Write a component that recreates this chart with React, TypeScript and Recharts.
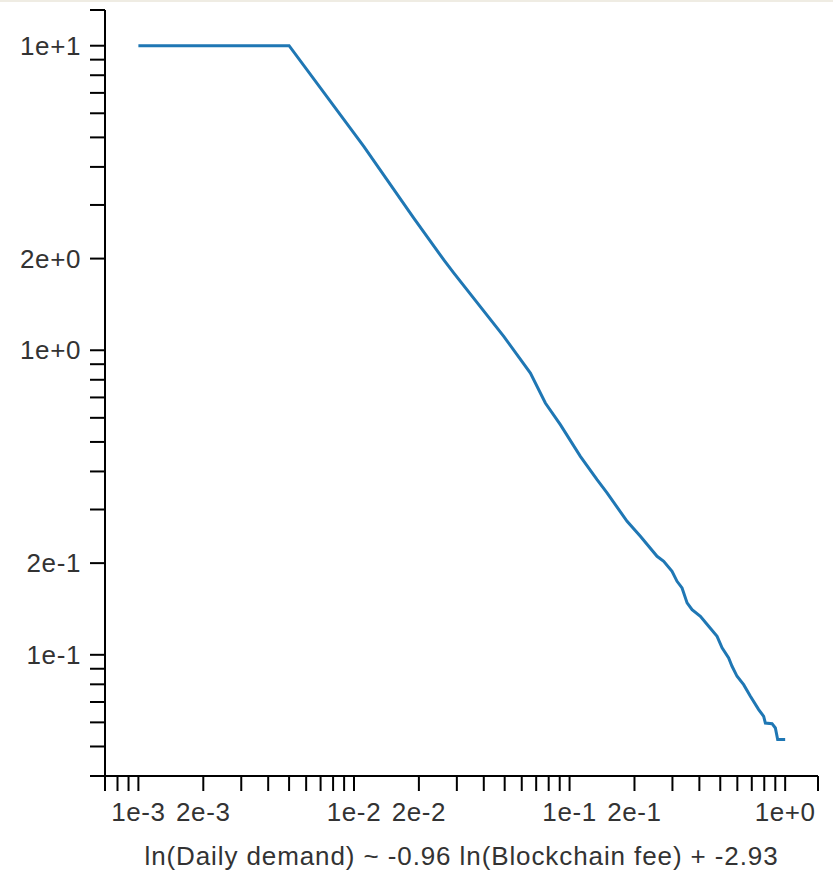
import React from 'react';
import { LineChart, Line, XAxis, YAxis } from 'recharts';

// values (log-log)
const fee = [
  0.001, 0.005, 0.0111, 0.0189, 0.0261, 0.029, 0.0495, 0.0658, 0.0772, 0.0906,
  0.1122, 0.1341, 0.1492, 0.1848, 0.213, 0.2545, 0.2733, 0.2987, 0.3151, 0.3324,
  0.3508, 0.37, 0.4043, 0.4417, 0.4832, 0.5097, 0.5468, 0.567, 0.5981, 0.6419,
  0.6897, 0.7536, 0.7949, 0.8095, 0.8694, 0.9006, 0.923, 1.0,
];
const demand = [
  10, 10, 4.67, 2.72, 1.98, 1.794, 1.111, 0.842, 0.671, 0.57,
  0.4484, 0.3759, 0.34, 0.2744, 0.2449, 0.2106, 0.2028, 0.188, 0.1743, 0.1658,
  0.1481, 0.1407, 0.1338, 0.1241, 0.115, 0.1054, 0.0977, 0.0917, 0.085, 0.0798,
  0.0731, 0.0661, 0.0628, 0.0597, 0.0594, 0.0575, 0.0527, 0.0527,
];

const xDomain = [0.0007, 1.42];
const yDomain = [0.04, 13.1];

const xTicks = [
  0.0007, 0.0008, 0.0009,
  0.001, 0.002, 0.003, 0.004, 0.005, 0.006, 0.007, 0.008, 0.009,
  0.01, 0.02, 0.03, 0.04, 0.05, 0.06, 0.07, 0.08, 0.09,
  0.1, 0.2, 0.3, 0.4, 0.5, 0.6, 0.7, 0.8, 0.9,
  1, 1.42,
];
const xLabels: Record<string, string> = {
  '0.001': '1e-3', '0.002': '2e-3', '0.01': '1e-2', '0.02': '2e-2',
  '0.1': '1e-1', '0.2': '2e-1', '1': '1e+0',
};

const yTicks = [
  0.04, 0.05, 0.06, 0.07, 0.08, 0.09,
  0.1, 0.2, 0.3, 0.4, 0.5, 0.6, 0.7, 0.8, 0.9,
  1, 2, 3, 4, 5, 6, 7, 8, 9, 10, 13.1,
];
const yLabels: Record<string, string> = {
  '0.1': '1e-1', '0.2': '2e-1', '1': '1e+0', '2': '2e+0', '10': '1e+1',
};

const xTitle = 'ln(Daily demand) ~ -0.96 ln(Blockchain fee) + -2.93';

const data = fee.map((f, i) => ({ fee: f, demand: demand[i] }));

const font = '"Liberation Sans", Arial, sans-serif';
const fs = 26;
const ls = 0.6;

const XTick = (props: any) => {
  const { x, y, payload } = props;
  const label = xLabels[String(payload.value)];
  if (!label) return null;
  return (
    <text x={x} y={y} dy="0.71em" textAnchor="middle" fill="#333" fontSize={fs} fontFamily={font} letterSpacing={ls}>
      {label}
    </text>
  );
};

const YTick = (props: any) => {
  const { x, y, payload } = props;
  const label = yLabels[String(payload.value)];
  if (!label) return null;
  return (
    <text x={x} y={y} dy="0.35em" textAnchor="end" fill="#333" fontSize={fs} fontFamily={font} letterSpacing={ls}>
      {label}
    </text>
  );
};

const App = () => {
  return (
    <div style={{ position: 'absolute', left: 0, top: 0, width: 833, height: 871, background: '#fff' }}>
      <div style={{ position: 'absolute', left: 0, top: 0, width: 833, height: 2, background: '#efece3' }} />
      <LineChart
        width={833}
        height={871}
        data={data}
        margin={{ top: 10, right: 15, left: 5, bottom: 5 }}
      >
        <XAxis
          dataKey="fee"
          type="number"
          scale="log"
          domain={xDomain}
          allowDataOverflow
          ticks={xTicks}
          interval={0}
          tickSize={15}
          tickMargin={12}
          height={90}
          axisLine={{ stroke: '#000', strokeWidth: 2 }}
          tickLine={{ stroke: '#000', strokeWidth: 2 }}
          tick={<XTick />}
          label={{ value: xTitle, position: 'insideBottom', offset: 1, fill: '#333', fontSize: fs, fontFamily: font, letterSpacing: 0.9 }}
        />
        <YAxis
          dataKey="demand"
          type="number"
          scale="log"
          domain={yDomain}
          allowDataOverflow
          ticks={yTicks}
          interval={0}
          tickSize={15}
          tickMargin={9}
          width={100}
          axisLine={{ stroke: '#000', strokeWidth: 2 }}
          tickLine={{ stroke: '#000', strokeWidth: 2 }}
          tick={<YTick />}
        />
        <Line
          type="linear"
          dataKey="demand"
          stroke="#1f77b4"
          strokeWidth={3}
          dot={false}
          isAnimationActive={false}
        />
      </LineChart>
    </div>
  );
};

export default App;
